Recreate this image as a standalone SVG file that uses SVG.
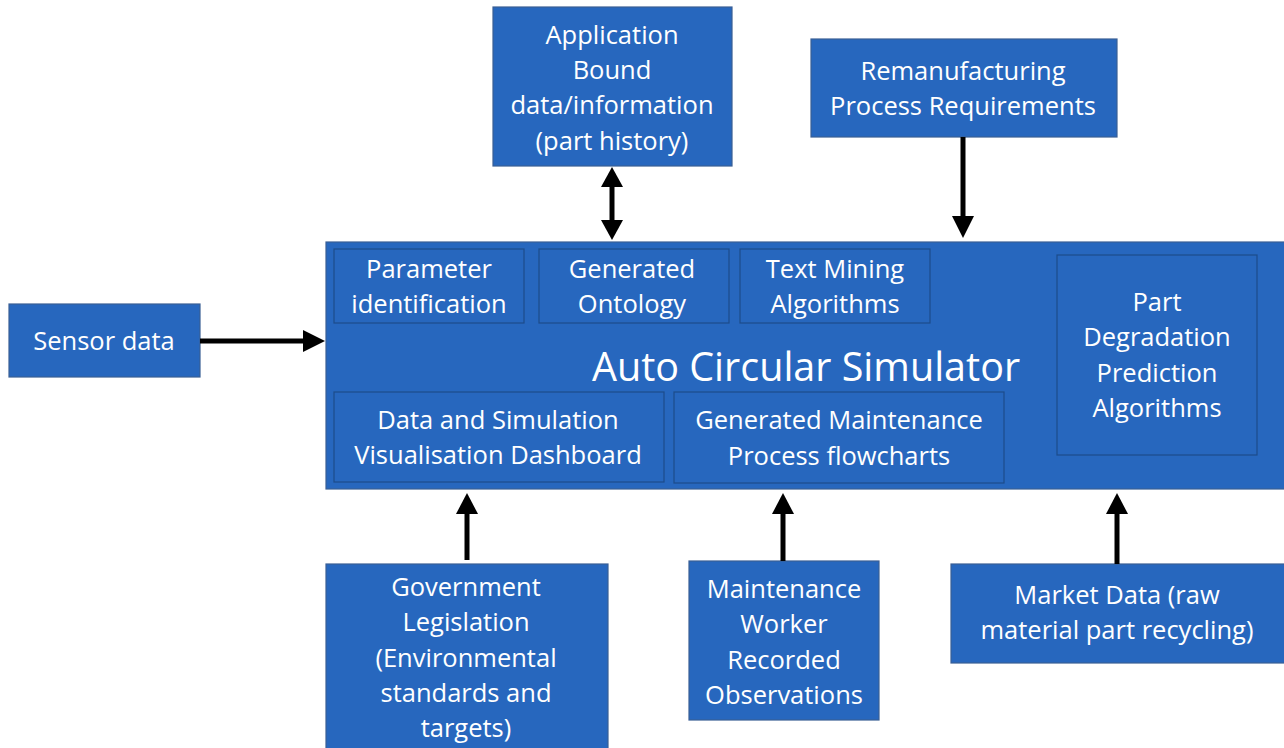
<svg xmlns="http://www.w3.org/2000/svg" width="1284" height="748" viewBox="0 0 1284 748">
<defs>
<style>
.box{fill:#2767be;stroke:#3a5f95;stroke-width:1.2}
.inner{fill:#2767be;stroke:#1d4c8a;stroke-width:1.2}
.t{font-family:"Open Sans","Liberation Sans",sans-serif;font-size:25.5px;fill:#ffffff;text-anchor:middle;dominant-baseline:central}
.title{font-size:39.5px}
.c{stroke:#000;stroke-width:5;fill:none}
.h{fill:#000}
</style>
</defs>
<rect width="1284" height="748" fill="#ffffff"/>
<g id="simulator">
<rect class="box" x="326" y="242" width="962" height="247"/>
<text class="t title" x="806" y="366">Auto Circular Simulator</text>
</g>
<g id="param">
<rect class="inner" x="334" y="249" width="190" height="74"/>
<text class="t" x="429" y="268">Parameter</text>
<text class="t" x="429" y="303">identification</text>
</g>
<g id="ontology">
<rect class="inner" x="539" y="249" width="190" height="74"/>
<text class="t" x="632" y="268">Generated</text>
<text class="t" x="632" y="303">Ontology</text>
</g>
<g id="textmining">
<rect class="inner" x="740" y="249" width="190" height="74"/>
<text class="t" x="835" y="268">Text Mining</text>
<text class="t" x="835" y="303">Algorithms</text>
</g>
<g id="degradation">
<rect class="inner" x="1057" y="255" width="200" height="200"/>
<text class="t" x="1157" y="301">Part</text>
<text class="t" x="1157" y="336">Degradation</text>
<text class="t" x="1157" y="372">Prediction</text>
<text class="t" x="1157" y="407">Algorithms</text>
</g>
<g id="dashboard">
<rect class="inner" x="334" y="392" width="330" height="90"/>
<text class="t" x="498" y="419">Data and Simulation</text>
<text class="t" x="498" y="454">Visualisation Dashboard</text>
</g>
<g id="flowcharts">
<rect class="inner" x="674" y="392" width="330" height="91"/>
<text class="t" x="839" y="419">Generated Maintenance</text>
<text class="t" x="839" y="455">Process flowcharts</text>
</g>
<g id="sensor">
<rect class="box" x="9" y="304" width="191" height="73"/>
<text class="t" x="104" y="340">Sensor data</text>
</g>
<g id="application">
<rect class="box" x="493" y="7" width="239" height="159"/>
<text class="t" x="612" y="34">Application</text>
<text class="t" x="612" y="69">Bound</text>
<text class="t" x="612" y="104">data/information</text>
<text class="t" x="612" y="140">(part history)</text>
</g>
<g id="remanufacturing">
<rect class="box" x="811" y="39" width="306" height="98"/>
<text class="t" x="963" y="70">Remanufacturing</text>
<text class="t" x="963" y="105">Process Requirements</text>
</g>
<g id="government">
<rect class="box" x="326" y="564" width="282" height="190"/>
<text class="t" x="466" y="586">Government</text>
<text class="t" x="466" y="621">Legislation</text>
<text class="t" x="466" y="657">(Environmental</text>
<text class="t" x="466" y="692">standards and</text>
<text class="t" x="466" y="727">targets)</text>
</g>
<g id="worker">
<rect class="box" x="689" y="561" width="190" height="159"/>
<text class="t" x="784" y="588">Maintenance</text>
<text class="t" x="784" y="623">Worker</text>
<text class="t" x="784" y="659">Recorded</text>
<text class="t" x="784" y="694">Observations</text>
</g>
<g id="market">
<rect class="box" x="951" y="564" width="337" height="99"/>
<text class="t" x="1117" y="594">Market Data (raw</text>
<text class="t" x="1117" y="629">material part recycling)</text>
</g>
<g id="connectors">
<line class="c" x1="200" y1="341" x2="305" y2="341"/>
<polygon class="h" points="303,330 325,341 303,352"/>
<line class="c" x1="612" y1="185" x2="612" y2="222"/>
<polygon class="h" points="601,187 612,167 623,187"/>
<polygon class="h" points="601,220 612,240 623,220"/>
<line class="c" x1="963" y1="137" x2="963" y2="218"/>
<polygon class="h" points="952,216 963,238 974,216"/>
<line class="c" x1="467" y1="560" x2="467" y2="512"/>
<polygon class="h" points="456,514 467,493 478,514"/>
<line class="c" x1="783" y1="561" x2="783" y2="512"/>
<polygon class="h" points="772,514 783,493 794,514"/>
<line class="c" x1="1117" y1="564" x2="1117" y2="512"/>
<polygon class="h" points="1106,514 1117,493 1128,514"/>
</g>
</svg>
